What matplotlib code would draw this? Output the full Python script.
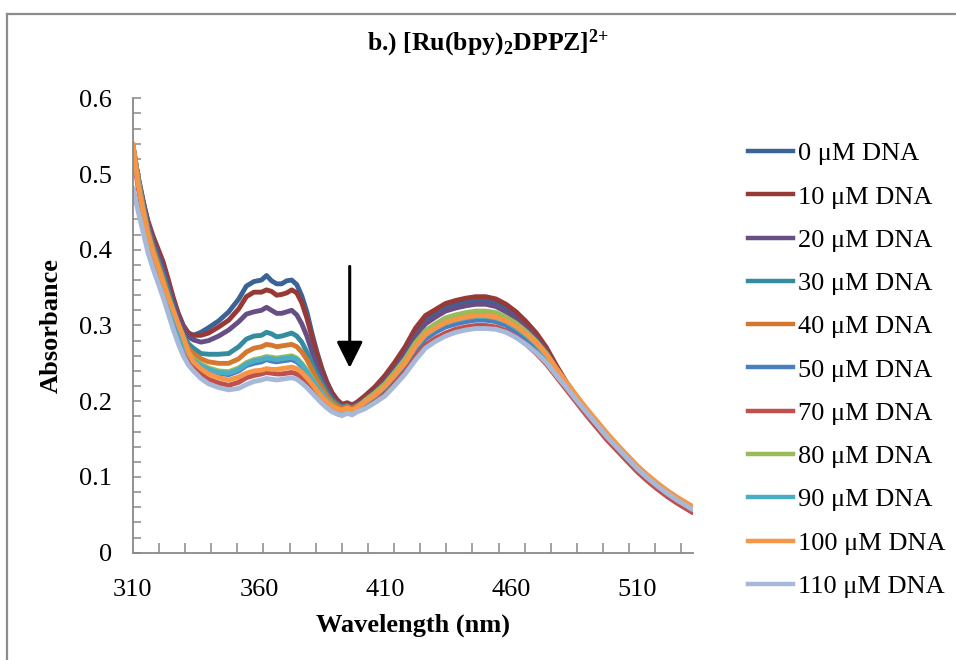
# -*- coding: utf-8 -*-
"""UV-vis titration of [Ru(bpy)2DPPZ]2+ with DNA."""

import matplotlib
matplotlib.use("Agg")
import matplotlib.pyplot as plt
from matplotlib.lines import Line2D
from matplotlib.ticker import FixedLocator, FixedFormatter

wavelength = [310, 312, 314, 316, 318, 320, 322, 324, 326, 328, 330, 332, 334,
              337, 340, 344, 348, 352,
              355, 358, 361, 363, 365, 367, 369, 371, 373, 375, 377, 379, 381, 383,
              385, 387, 389, 391, 393, 395, 397, 399,
              402, 406, 410, 414, 418, 422, 426, 430, 434, 438, 442, 446, 450, 454,
              458, 462, 466, 470, 474, 478, 482, 486, 490, 494, 498, 502, 506, 510,
              514, 518, 522, 526, 530, 532]

labels = ['0 μM DNA', '10 μM DNA', '20 μM DNA', '30 μM DNA', '40 μM DNA', '50 μM DNA',
          '70 μM DNA', '80 μM DNA', '90 μM DNA', '100 μM DNA', '110 μM DNA']

colors = ['#3b6496', '#973a37', '#674f85', '#358c9e', '#d5772f', '#4a7ebf',
          '#c0504d', '#9bbb59', '#4bacc6', '#f79646', '#a7b9d9']

abs_0 = [0.538, 0.498, 0.466, 0.435, 0.413, 0.395, 0.377, 0.356, 0.335, 0.316, 0.300, 0.290, 0.287,
         0.291, 0.297, 0.306, 0.318, 0.335,
         0.352, 0.358, 0.360, 0.366, 0.359, 0.355, 0.355, 0.359, 0.360, 0.354, 0.339, 0.318, 0.290, 0.265,
         0.243, 0.225, 0.211, 0.201, 0.194, 0.196, 0.192, 0.195,
         0.203, 0.214, 0.228, 0.246, 0.265, 0.289, 0.307, 0.316, 0.324, 0.328, 0.331, 0.333, 0.333, 0.330,
         0.322, 0.312, 0.300, 0.285, 0.267, 0.243, 0.222, 0.203, 0.185, 0.168, 0.152, 0.137, 0.122, 0.108,
         0.096, 0.085, 0.075, 0.066, 0.058, 0.054]
abs_10 = [0.530, 0.492, 0.463, 0.438, 0.418, 0.401, 0.384, 0.361, 0.337, 0.315, 0.299, 0.290, 0.287,
          0.287, 0.290, 0.298, 0.307, 0.322,
          0.338, 0.344, 0.344, 0.347, 0.345, 0.340, 0.341, 0.343, 0.347, 0.343, 0.330, 0.310, 0.285, 0.262,
          0.241, 0.224, 0.211, 0.202, 0.196, 0.198, 0.195, 0.199,
          0.207, 0.219, 0.234, 0.252, 0.272, 0.296, 0.313, 0.321, 0.329, 0.333, 0.336, 0.338, 0.338, 0.335,
          0.328, 0.318, 0.305, 0.290, 0.271, 0.247, 0.225, 0.206, 0.188, 0.171, 0.155, 0.140, 0.125, 0.111,
          0.099, 0.088, 0.078, 0.069, 0.061, 0.057]
abs_20 = [0.535, 0.497, 0.464, 0.434, 0.413, 0.394, 0.376, 0.353, 0.331, 0.311, 0.295, 0.285, 0.281,
          0.278, 0.280, 0.286, 0.294, 0.305,
          0.315, 0.318, 0.320, 0.324, 0.320, 0.316, 0.316, 0.318, 0.320, 0.314, 0.302, 0.286, 0.266, 0.247,
          0.230, 0.216, 0.205, 0.198, 0.193, 0.195, 0.192, 0.196,
          0.202, 0.213, 0.226, 0.243, 0.262, 0.285, 0.302, 0.311, 0.319, 0.323, 0.326, 0.328, 0.328, 0.325,
          0.318, 0.309, 0.297, 0.283, 0.266, 0.243, 0.223, 0.204, 0.187, 0.170, 0.154, 0.139, 0.124, 0.110,
          0.098, 0.087, 0.077, 0.068, 0.060, 0.056]
abs_30 = [0.538, 0.495, 0.460, 0.428, 0.405, 0.386, 0.367, 0.345, 0.323, 0.303, 0.287, 0.276, 0.270,
          0.263, 0.262, 0.262, 0.263, 0.272,
          0.282, 0.286, 0.287, 0.291, 0.289, 0.285, 0.286, 0.288, 0.290, 0.286, 0.278, 0.265, 0.250, 0.236,
          0.223, 0.211, 0.202, 0.196, 0.192, 0.194, 0.191, 0.195,
          0.200, 0.210, 0.222, 0.238, 0.255, 0.276, 0.292, 0.301, 0.309, 0.313, 0.316, 0.318, 0.318, 0.316,
          0.310, 0.302, 0.291, 0.278, 0.262, 0.241, 0.222, 0.204, 0.187, 0.171, 0.155, 0.140, 0.126, 0.112,
          0.100, 0.089, 0.079, 0.070, 0.062, 0.058]
abs_40 = [0.540, 0.495, 0.458, 0.425, 0.401, 0.381, 0.361, 0.339, 0.317, 0.297, 0.281, 0.270, 0.263,
          0.256, 0.252, 0.250, 0.250, 0.256,
          0.265, 0.270, 0.272, 0.275, 0.274, 0.272, 0.273, 0.274, 0.275, 0.272, 0.265, 0.255, 0.242, 0.229,
          0.218, 0.207, 0.199, 0.194, 0.190, 0.193, 0.190, 0.194,
          0.199, 0.209, 0.221, 0.237, 0.253, 0.274, 0.290, 0.299, 0.306, 0.310, 0.313, 0.315, 0.315, 0.313,
          0.307, 0.299, 0.289, 0.276, 0.260, 0.240, 0.221, 0.203, 0.186, 0.170, 0.154, 0.139, 0.125, 0.111,
          0.099, 0.088, 0.078, 0.069, 0.061, 0.057]
abs_50 = [0.535, 0.490, 0.452, 0.420, 0.396, 0.375, 0.355, 0.332, 0.310, 0.290, 0.274, 0.262, 0.254,
          0.246, 0.241, 0.237, 0.235, 0.240,
          0.247, 0.250, 0.252, 0.255, 0.253, 0.252, 0.253, 0.254, 0.255, 0.252, 0.246, 0.238, 0.228, 0.218,
          0.209, 0.200, 0.193, 0.188, 0.185, 0.188, 0.185, 0.189,
          0.195, 0.204, 0.215, 0.230, 0.246, 0.266, 0.282, 0.291, 0.298, 0.302, 0.305, 0.307, 0.307, 0.305,
          0.300, 0.292, 0.282, 0.270, 0.255, 0.236, 0.218, 0.200, 0.183, 0.167, 0.151, 0.136, 0.122, 0.108,
          0.096, 0.085, 0.075, 0.066, 0.058, 0.054]
abs_70 = [0.530, 0.484, 0.446, 0.413, 0.388, 0.367, 0.347, 0.324, 0.302, 0.282, 0.266, 0.254, 0.246,
          0.236, 0.229, 0.224, 0.221, 0.225,
          0.231, 0.234, 0.236, 0.238, 0.237, 0.236, 0.236, 0.237, 0.238, 0.236, 0.231, 0.224, 0.216, 0.208,
          0.200, 0.193, 0.188, 0.184, 0.182, 0.185, 0.183, 0.187,
          0.192, 0.200, 0.210, 0.224, 0.239, 0.258, 0.274, 0.283, 0.290, 0.295, 0.298, 0.300, 0.300, 0.298,
          0.293, 0.285, 0.275, 0.263, 0.249, 0.232, 0.215, 0.198, 0.181, 0.165, 0.149, 0.135, 0.121, 0.107,
          0.095, 0.084, 0.074, 0.065, 0.057, 0.053]
abs_80 = [0.537, 0.492, 0.454, 0.421, 0.397, 0.377, 0.357, 0.334, 0.312, 0.292, 0.276, 0.264, 0.256,
          0.249, 0.244, 0.240, 0.239, 0.244,
          0.251, 0.255, 0.257, 0.259, 0.258, 0.257, 0.258, 0.259, 0.260, 0.257, 0.250, 0.241, 0.231, 0.220,
          0.211, 0.202, 0.195, 0.190, 0.187, 0.190, 0.187, 0.191,
          0.201, 0.211, 0.223, 0.239, 0.256, 0.277, 0.293, 0.302, 0.310, 0.314, 0.317, 0.319, 0.319, 0.317,
          0.311, 0.303, 0.292, 0.279, 0.263, 0.243, 0.224, 0.206, 0.189, 0.173, 0.157, 0.142, 0.128, 0.114,
          0.102, 0.091, 0.081, 0.072, 0.064, 0.060]
abs_90 = [0.536, 0.491, 0.453, 0.420, 0.396, 0.375, 0.355, 0.332, 0.310, 0.290, 0.274, 0.262, 0.254,
          0.247, 0.242, 0.238, 0.237, 0.242,
          0.249, 0.253, 0.255, 0.257, 0.256, 0.255, 0.256, 0.257, 0.258, 0.255, 0.248, 0.239, 0.229, 0.219,
          0.210, 0.201, 0.194, 0.189, 0.186, 0.189, 0.186, 0.190,
          0.198, 0.207, 0.219, 0.234, 0.250, 0.271, 0.287, 0.296, 0.303, 0.307, 0.310, 0.312, 0.312, 0.310,
          0.305, 0.297, 0.287, 0.275, 0.259, 0.240, 0.222, 0.204, 0.187, 0.171, 0.155, 0.140, 0.126, 0.112,
          0.100, 0.089, 0.079, 0.070, 0.062, 0.058]
abs_100 = [0.540, 0.488, 0.452, 0.420, 0.397, 0.377, 0.357, 0.338, 0.320, 0.302, 0.285, 0.265, 0.252,
           0.243, 0.236, 0.231, 0.228, 0.232,
           0.237, 0.240, 0.241, 0.243, 0.242, 0.242, 0.243, 0.244, 0.245, 0.243, 0.238, 0.231, 0.223, 0.214,
           0.206, 0.199, 0.193, 0.190, 0.188, 0.191, 0.188, 0.192,
           0.199, 0.208, 0.220, 0.235, 0.251, 0.272, 0.288, 0.297, 0.304, 0.308, 0.311, 0.313, 0.313, 0.311,
           0.306, 0.299, 0.289, 0.277, 0.262, 0.243, 0.225, 0.207, 0.190, 0.174, 0.158, 0.143, 0.129, 0.115,
           0.103, 0.092, 0.082, 0.073, 0.065, 0.061]
abs_110 = [0.482, 0.452, 0.424, 0.396, 0.375, 0.356, 0.337, 0.316, 0.295, 0.276, 0.260, 0.248, 0.240,
           0.230, 0.223, 0.218, 0.215, 0.217,
           0.222, 0.226, 0.228, 0.230, 0.229, 0.228, 0.229, 0.230, 0.231, 0.229, 0.224, 0.218, 0.211, 0.204,
           0.197, 0.191, 0.186, 0.183, 0.181, 0.184, 0.182, 0.186,
           0.190, 0.198, 0.207, 0.221, 0.236, 0.254, 0.270, 0.279, 0.286, 0.291, 0.294, 0.296, 0.296, 0.295,
           0.291, 0.284, 0.275, 0.264, 0.251, 0.234, 0.218, 0.201, 0.185, 0.169, 0.153, 0.139, 0.125, 0.111,
           0.099, 0.088, 0.078, 0.069, 0.061, 0.057]

spectra = [abs_0, abs_10, abs_20, abs_30, abs_40, abs_50, abs_70, abs_80, abs_90, abs_100, abs_110]

x_labels = [310, 360, 410, 460, 510]
x_minor = [310 + 10.36 * k for k in range(22)]
y_ticks = [0, 0.1, 0.2, 0.3, 0.4, 0.5, 0.6]
y_labels = ['0', '0.1', '0.2', '0.3', '0.4', '0.5', '0.6']
y_minor = [0.02 * k for k in range(31)]

# Excel-like look
plt.rcParams['font.family'] = ['Liberation Serif', 'DejaVu Serif']
plt.rcParams['mathtext.fontset'] = 'custom'
plt.rcParams['mathtext.rm'] = 'Liberation Serif:bold'
plt.rcParams['mathtext.it'] = 'Liberation Serif:bold'
plt.rcParams['mathtext.bf'] = 'Liberation Serif:bold'
plt.rcParams['mathtext.default'] = 'rm'

axis_gray = '#898989'
fsize = 19

fig = plt.figure(figsize=(9.56, 6.6), dpi=100)
ax = fig.add_axes([0.139, 0.1626, 0.586, 0.6885])

for values, color, label in zip(spectra, colors, labels):
    ax.plot(wavelength, values, color=color, lw=3.5, label=label,
            solid_joinstyle='round', solid_capstyle='round')

ax.set_xlim(310, 532.2)
ax.set_ylim(0, 0.6)

ax.xaxis.set_major_locator(FixedLocator(x_labels))
ax.xaxis.set_minor_locator(FixedLocator(x_minor))
ax.yaxis.set_major_locator(FixedLocator(y_ticks))
ax.yaxis.set_major_formatter(FixedFormatter(y_labels))
ax.yaxis.set_minor_locator(FixedLocator(y_minor))

ax.tick_params(axis='x', which='major', length=0, pad=19, labelsize=fsize)
ax.tick_params(axis='x', which='minor', direction='in', length=7, width=1.1, color=axis_gray)
ax.tick_params(axis='y', which='both', direction='in', length=6, width=1.1, color=axis_gray,
               labelsize=fsize, pad=15)

for side in ['top', 'right']:
    ax.spines[side].set_visible(False)
for side in ['left', 'bottom']:
    ax.spines[side].set_color(axis_gray)
    ax.spines[side].set_linewidth(1.3)

ax.set_xlabel('Wavelength (nm)', fontsize=fsize, fontweight='bold', labelpad=9)
ax.set_ylabel('Absorbance', fontsize=fsize, fontweight='bold', labelpad=12)

fig.text(0.511, 0.934, r'b.) [Ru(bpy)$_2$DPPZ]$^{2{+}}$', fontsize=18.5, fontweight='bold',
         ha='center', va='center')

# arrow showing the hypochromic change
ax.annotate('', xy=(396, 0.244), xytext=(396, 0.378),
            arrowprops=dict(arrowstyle='-|>,head_length=0.4,head_width=0.2',
                            mutation_scale=40, color='black', lw=2.2,
                            shrinkA=0, shrinkB=0))

handles = [Line2D([], [], color=c, lw=3.2) for c in colors]
fig.legend(handles, labels, loc='upper left', bbox_to_anchor=(0.7825, 0.785),
           frameon=False, fontsize=fsize, handlelength=1.7, handletextpad=0.2,
           labelspacing=0.75, borderaxespad=0, borderpad=0)

# chart area border (only top and left edges are visible)
fig.add_artist(Line2D([7 / 956, 1.0], [1 - 14 / 660, 1 - 14 / 660],
                      transform=fig.transFigure, color='#8c8c8c', lw=1.6))
fig.add_artist(Line2D([7 / 956, 7 / 956], [1 - 14 / 660, 0.0],
                      transform=fig.transFigure, color='#8c8c8c', lw=1.6))

fig.savefig('out.png', dpi=100)
